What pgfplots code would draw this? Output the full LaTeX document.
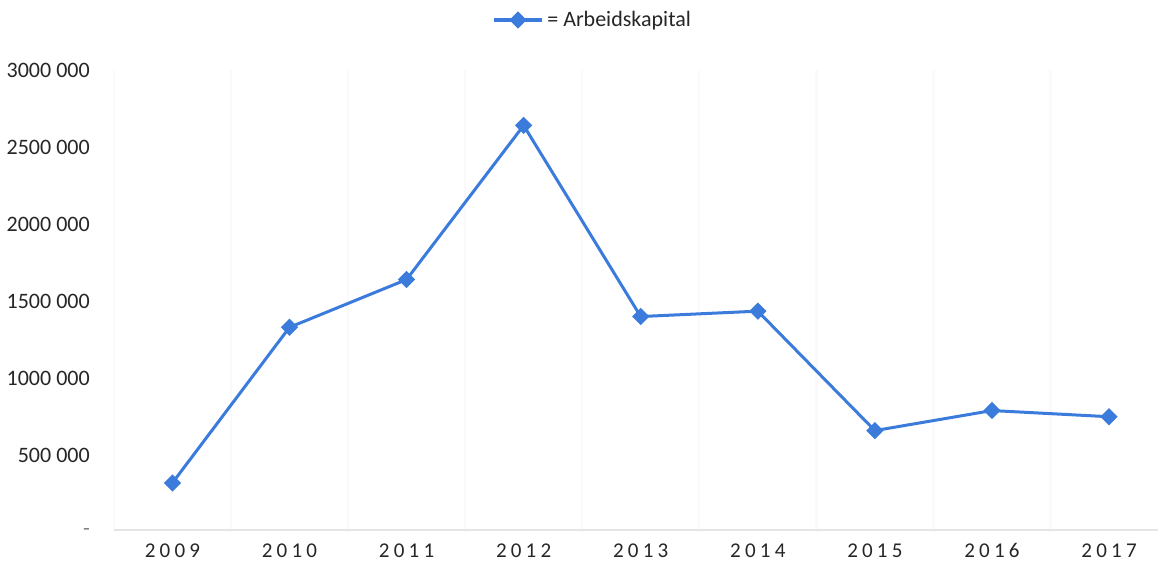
\documentclass[border=0pt]{standalone}
\usepackage{fontspec}
\setmainfont{Carlito}
\usepackage{pgfplots}
\pgfplotsset{compat=1.18}
\definecolor{lineblue}{HTML}{3B7BDB}
\definecolor{labgray}{HTML}{262626}

\begin{document}
\begin{tikzpicture}
\begin{axis}[
  scale only axis,
  width=521.75pt, height=231pt,
  xmin=-0.5, xmax=8.42,
  ymin=0, ymax=3000000,
  scaled y ticks=false,
  axis line style={draw=none},
  axis x line*=bottom, axis y line*=left,
  xtick={0,1,2,3,4,5,6,7,8},
  xticklabels={2009,2010,2011,2012,2013,2014,2015,2016,2017},
  minor xtick={-0.5,0.5,1.5,2.5,3.5,4.5,5.5,6.5,7.5},
  xminorgrids, minor grid style={black!2, line width=1.2pt},
  ytick={0,500000,1000000,1500000,2000000,2500000,3000000},
  yticklabels={{\color{gray}-},500 000,1000 000,1500 000,2000 000,2500 000,3000 000},
  tick style={draw=none},
  yticklabel style={font=\fontsize{11}{13}\selectfont, text=labgray, xshift=-8.5pt},
  xticklabel style={font=\fontsize{10.5}{12}\selectfont\addfontfeature{LetterSpace=20}, text=labgray, yshift=-2pt},
  legend style={draw=none, fill=none, at={(axis description cs:0.4595,1.108)}, anchor=center,
                font=\fontsize{11}{13}\selectfont, text=labgray},
  legend image code/.code={\draw[mark repeat=2,mark phase=2] plot coordinates {(0cm,0cm) (0.42cm,0cm) (0.84cm,0cm)};},
  clip=false,
]
\path (axis description cs:0.5,1.108) ++(0,10pt) coordinate (toppad);
\path (toppad) -- ++(0.1pt,0);
\draw[black!10, line width=0.8pt] (axis cs:-0.5,15000) -- (axis cs:8.42,15000);
\addplot[lineblue, line width=1.5pt, mark=square*, mark size=2.3pt, mark options={fill=lineblue, rotate=45}]
  coordinates {(0,320000) (1,1330000) (2,1640000) (3,2640000) (4,1400000) (5,1435000) (6,660000) (7,790000) (8,750000)};
\legend{= Arbeidskapital}
\end{axis}
\end{tikzpicture}
\end{document}
